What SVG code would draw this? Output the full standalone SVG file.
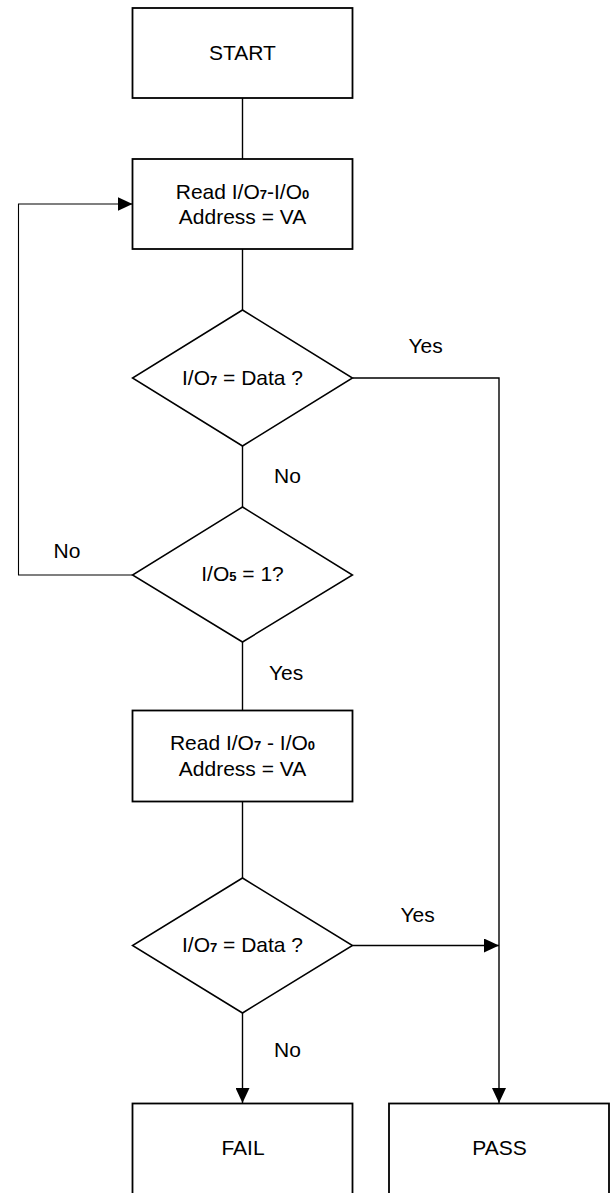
<svg xmlns="http://www.w3.org/2000/svg" width="613" height="1193" viewBox="0 0 613 1193">
<defs>
<style>
.box{fill:#fff;stroke:#000;stroke-width:1.8}
.dia{fill:#fff;stroke:#000;stroke-width:1.5}
.ln{fill:none;stroke:#000;stroke-width:1.4}
.thin{fill:none;stroke:#000;stroke-width:1.1}
text{font-family:"Liberation Sans",Arial,sans-serif;font-size:21px;fill:#000}
.c{text-anchor:middle}
.sub{font-size:13px;font-weight:bold}
</style>
<marker id="ah" markerUnits="userSpaceOnUse" markerWidth="16" markerHeight="14" refX="15" refY="7" orient="auto">
<path d="M0,0 L15,7 L0,14 z" fill="#000"/>
</marker>
</defs>
<rect width="613" height="1193" fill="#fff"/>
<g id="connectors">
<line class="ln" x1="242.5" y1="98" x2="242.5" y2="159"/>
<line class="ln" x1="242.5" y1="249" x2="242.5" y2="310"/>
<line class="ln" x1="242.5" y1="446" x2="242.5" y2="507"/>
<line class="ln" x1="242.5" y1="642" x2="242.5" y2="710.5"/>
<line class="ln" x1="242.5" y1="801.5" x2="242.5" y2="878"/>
<line class="ln" x1="242.5" y1="1013" x2="242.5" y2="1103" marker-end="url(#ah)"/>
<polyline class="thin" points="132.5,575 18.5,575 18.5,204 132.5,204" marker-end="url(#ah)"/>
<polyline class="ln" points="352.5,378 499,378 499,1103" marker-end="url(#ah)"/>
<line class="ln" x1="352.5" y1="945.5" x2="499" y2="945.5" marker-end="url(#ah)"/>
<text x="408.5" y="353">Yes</text>
<text x="274" y="483">No</text>
<text x="53.5" y="558">No</text>
<text x="269" y="680">Yes</text>
<text x="400.5" y="921.5">Yes</text>
<text x="274" y="1057">No</text>
</g>
<g id="start">
<rect class="box" x="132.5" y="8" width="220" height="90"/>
<text class="c" x="242.5" y="60">START</text>
</g>
<g id="read1">
<rect class="box" x="132.5" y="159" width="220" height="90"/>
<text class="c" x="242.5" y="199">Read I/O<tspan class="sub">7</tspan>-I/O<tspan class="sub">0</tspan></text>
<text class="c" x="242.5" y="224">Address = VA</text>
</g>
<g id="dec1">
<polygon class="dia" points="242.5,310 352.5,378 242.5,446 132.5,378"/>
<text class="c" x="242.5" y="385">I/O<tspan class="sub">7</tspan> = Data ?</text>
</g>
<g id="dec2">
<polygon class="dia" points="242.5,507 352.5,575 242.5,642 132.5,575"/>
<text class="c" x="242.5" y="581">I/O<tspan class="sub">5</tspan> = 1?</text>
</g>
<g id="read2">
<rect class="box" x="132.5" y="710.5" width="220" height="91"/>
<text class="c" x="242.5" y="750">Read I/O<tspan class="sub">7</tspan> - I/O<tspan class="sub">0</tspan></text>
<text class="c" x="242.5" y="776">Address = VA</text>
</g>
<g id="dec3">
<polygon class="dia" points="242.5,878 352.5,945.5 242.5,1013 132.5,945.5"/>
<text class="c" x="242.5" y="952">I/O<tspan class="sub">7</tspan> = Data ?</text>
</g>
<g id="fail">
<rect class="box" x="132.5" y="1103.5" width="220" height="100"/>
<text class="c" x="243" y="1155">FAIL</text>
</g>
<g id="pass">
<rect class="box" x="389" y="1103.5" width="220" height="100"/>
<text class="c" x="499.5" y="1155">PASS</text>
</g>
</svg>
